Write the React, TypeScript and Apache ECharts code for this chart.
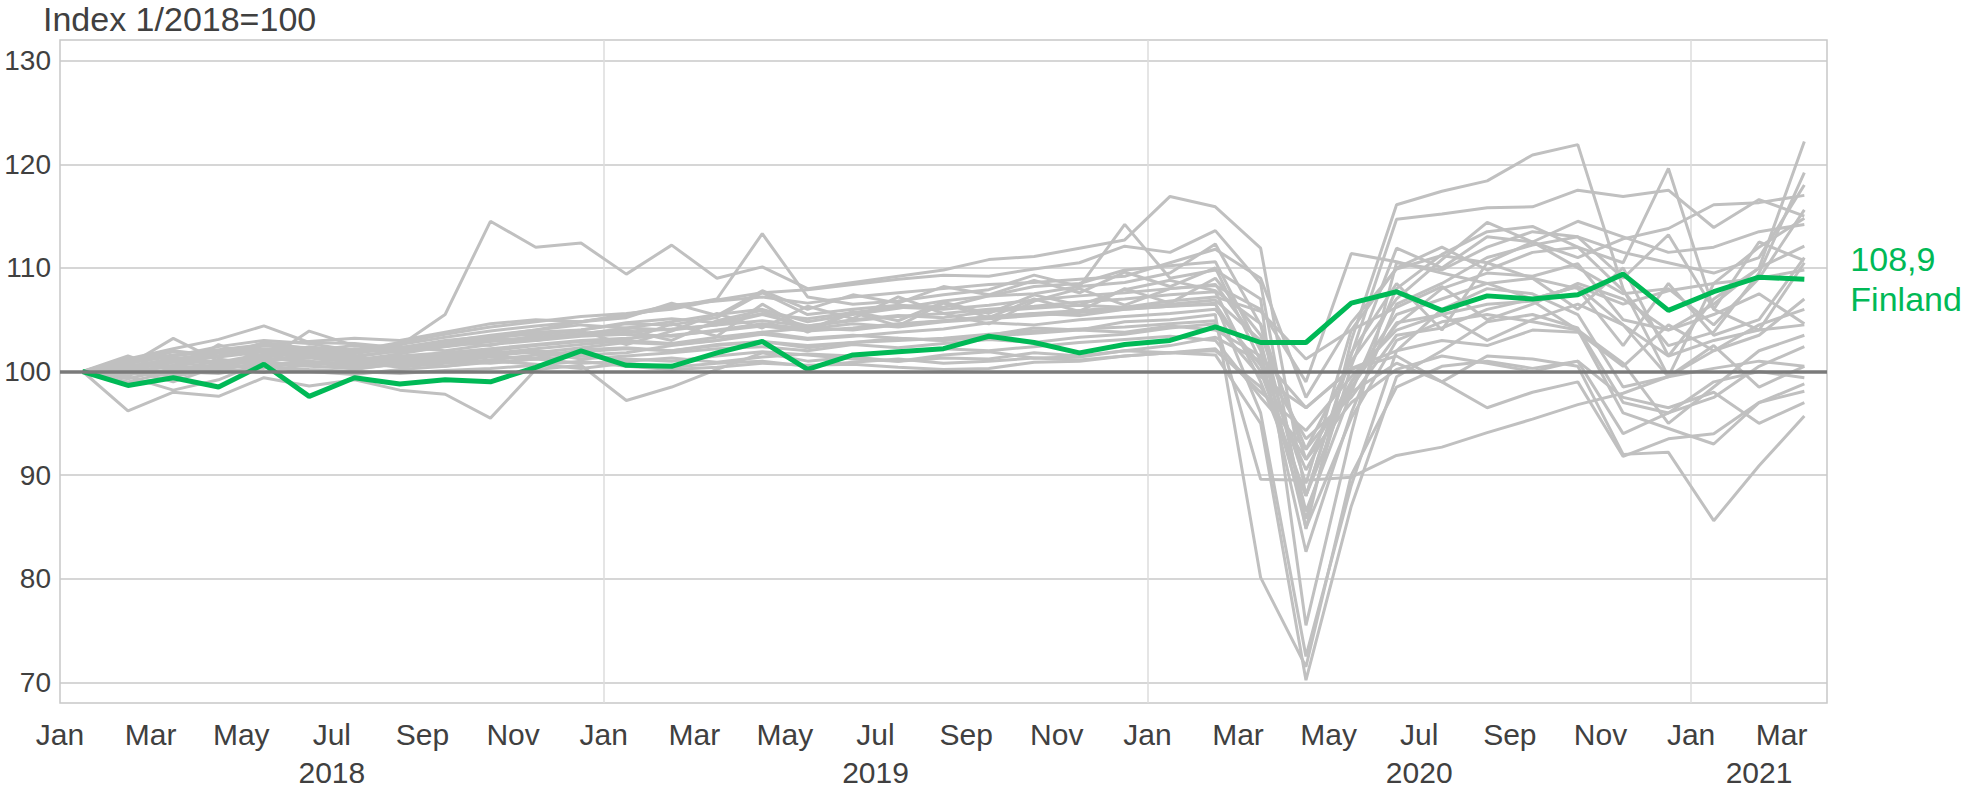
import React, { useEffect, useRef } from "react";
import * as echarts from "echarts";

// Months Jan 2018 .. Mar 2021 (39 monthly observations)
const startYear = 2018;
const monthNames = ["Jan", "Feb", "Mar", "Apr", "May", "Jun", "Jul", "Aug", "Sep", "Oct", "Nov", "Dec"];
const yearLabelPositions = [6, 18, 30, 37.5];
const yearLabels = ["2018", "2019", "2020", "2021"];
const yTickLabels = [70, 80, 90, 100, 110, 120, 130];

const finland = [100, 98.65, 99.4, 98.5, 100.7, 97.6, 99.4, 98.8, 99.2, 99.0, 100.4, 102.0, 100.6, 100.5, 101.8, 102.9, 100.2, 101.6, 101.9, 102.2, 103.4, 102.8, 101.8, 102.6, 103.0, 104.3, 102.8, 102.8, 106.6, 107.7, 105.9, 107.3, 107.0, 107.4, 109.4, 105.9, 107.7, 109.1, 108.9];

const g01 = [100, 101.0, 102.0, 101.5, 102.5, 102.3, 101.8, 102.5, 105.5, 114.5, 112.0, 112.4, 109.4, 112.2, 109.0, 110.1, 108.0, 108.6, 109.2, 109.8, 110.8, 111.1, 111.9, 112.7, 116.9, 115.9, 111.9, 88.0, 101.6, 114.7, 115.2, 115.8, 115.9, 117.5, 116.9, 117.5, 113.9, 116.6, 115.0];
const g02 = [100, 100.8, 101.5, 102.4, 103.0, 102.7, 102.0, 102.8, 103.6, 104.3, 104.8, 105.3, 105.6, 106.0, 106.9, 107.6, 107.9, 108.4, 108.9, 109.3, 109.2, 109.9, 110.5, 112.1, 111.5, 113.6, 108.5, 84.8, 103.0, 116.1, 117.4, 118.4, 120.9, 121.9, 108.0, 99.5, 108.5, 112.0, 114.8];
const g03 = [100, 100.3, 101.0, 101.8, 102.5, 102.0, 101.5, 102.0, 102.9, 103.5, 104.0, 104.8, 105.4, 106.2, 107.0, 113.3, 107.2, 106.5, 106.8, 107.4, 107.9, 109.3, 108.2, 114.2, 109.0, 109.8, 107.0, 75.5, 94.0, 110.5, 109.8, 112.0, 113.5, 113.0, 111.5, 110.5, 109.5, 111.0, 118.0];
const g04 = [100, 96.2, 98.0, 97.6, 99.4, 98.6, 99.2, 98.2, 97.8, 95.5, 100.2, 100.6, 97.2, 98.5, 100.2, 101.8, 101.0, 101.4, 101.0, 101.6, 101.9, 101.3, 101.4, 102.0, 102.5, 103.3, 101.0, 93.5, 97.5, 103.5, 104.2, 106.0, 107.0, 108.2, 104.5, 101.5, 103.0, 104.0, 104.5];
const g05 = [100, 100.6, 103.2, 101.0, 100.9, 101.6, 101.2, 101.0, 101.6, 102.0, 102.5, 102.9, 103.0, 104.6, 103.4, 106.5, 104.0, 105.8, 104.9, 106.7, 105.6, 107.4, 106.4, 107.9, 108.8, 107.8, 104.6, 91.5, 99.0, 104.5, 108.0, 109.5, 109.2, 110.4, 105.0, 104.0, 106.5, 110.0, 112.1];
const g06 = [100, 101.2, 102.2, 103.1, 104.4, 102.8, 102.7, 102.3, 103.0, 103.4, 104.0, 104.5, 104.2, 104.8, 105.5, 106.0, 104.8, 105.5, 106.1, 106.8, 107.3, 107.5, 108.2, 108.6, 109.5, 112.3, 104.5, 86.5, 98.0, 108.0, 111.3, 113.5, 114.0, 112.0, 107.8, 102.5, 103.8, 109.5, 119.2];
const g07 = [100, 99.5, 98.2, 99.2, 101.0, 103.9, 102.5, 101.8, 102.4, 103.2, 103.8, 104.0, 104.6, 104.5, 105.2, 107.6, 105.5, 106.0, 106.4, 106.2, 107.3, 108.2, 108.5, 109.8, 110.2, 110.6, 102.0, 82.6, 96.0, 106.5, 108.5, 111.0, 112.2, 113.0, 109.0, 113.2, 106.0, 112.5, 110.7];
const g08 = [100, 99.0, 100.0, 99.8, 100.5, 100.2, 100.0, 99.8, 100.1, 100.3, 100.6, 101.0, 100.5, 100.2, 100.4, 100.8, 100.6, 100.7, 100.4, 100.2, 100.3, 100.9, 101.0, 101.5, 101.8, 101.6, 95.0, 70.2, 87.0, 99.5, 102.0, 104.8, 105.5, 104.2, 97.0, 96.0, 97.5, 100.5, 102.4];
const g09 = [100, 100.2, 99.0, 100.5, 101.6, 101.0, 100.6, 101.2, 101.5, 101.8, 102.0, 101.6, 101.8, 102.5, 103.0, 103.8, 103.2, 103.5, 103.2, 103.0, 103.5, 104.2, 104.0, 104.8, 105.0, 105.5, 80.1, 71.5, 90.0, 98.5, 100.5, 101.0, 100.3, 101.0, 94.0, 96.0, 99.0, 100.0, 99.4];
const g10 = [100, 101.5, 100.0, 102.6, 101.0, 101.5, 101.2, 100.6, 100.9, 101.4, 101.3, 102.1, 102.3, 102.0, 102.5, 102.9, 102.3, 102.8, 103.0, 103.2, 103.6, 103.9, 104.1, 104.3, 104.6, 104.9, 89.6, 89.5, 89.8, 91.9, 92.7, 94.1, 95.4, 96.8, 97.9, 99.5, 100.3, 101.0, 100.5];
const g11 = [100, 100.9, 101.9, 101.5, 102.8, 102.2, 101.9, 102.6, 103.3, 103.9, 104.4, 104.8, 105.2, 106.6, 105.4, 107.8, 106.0, 107.4, 106.6, 108.2, 107.4, 108.8, 107.6, 109.6, 108.2, 110.0, 101.0, 85.8, 100.5, 111.9, 110.0, 113.0, 112.5, 111.0, 112.8, 113.8, 116.1, 116.3, 117.0];
const g12 = [100, 100.4, 101.3, 100.9, 101.7, 101.4, 101.1, 101.7, 102.4, 102.9, 103.2, 103.5, 103.8, 104.1, 104.5, 105.5, 104.4, 104.9, 105.3, 105.6, 106.0, 106.3, 106.7, 107.0, 107.4, 107.7, 99.0, 88.0, 101.8, 108.5, 104.0, 110.5, 109.0, 106.0, 110.0, 101.5, 107.0, 110.0, 122.2];
const g13 = [100, 100.7, 100.5, 101.8, 102.0, 101.8, 101.4, 102.0, 102.7, 103.3, 103.6, 103.9, 102.6, 103.9, 105.6, 104.2, 106.3, 105.1, 107.2, 105.6, 104.6, 106.8, 108.0, 106.4, 108.0, 108.4, 102.5, 89.2, 104.0, 110.0, 112.0, 109.8, 111.5, 112.0, 110.5, 119.6, 106.0, 104.0, 110.5];
const g14 = [100, 99.8, 99.6, 100.8, 101.3, 100.9, 100.8, 101.3, 101.7, 101.9, 101.8, 102.3, 102.8, 102.6, 103.0, 103.6, 103.1, 103.4, 103.8, 104.1, 104.7, 104.5, 105.0, 105.3, 105.6, 106.0, 100.6, 90.5, 98.5, 104.7, 105.5, 106.5, 106.8, 104.0, 96.0, 94.5, 93.0, 97.0, 98.1];
const g15 = [100, 100.1, 100.4, 100.2, 100.8, 100.5, 100.3, 100.7, 101.0, 100.8, 101.2, 101.5, 101.2, 101.0, 101.5, 101.9, 101.6, 101.2, 101.0, 101.3, 101.2, 101.8, 101.5, 102.0, 101.8, 102.2, 98.0, 94.3, 99.5, 104.0, 105.5, 103.0, 105.0, 106.5, 104.5, 99.5, 102.0, 103.5, 107.0];
const g16 = [100, 99.3, 100.3, 99.9, 100.4, 100.0, 99.7, 100.2, 100.5, 100.9, 101.2, 100.8, 101.0, 101.3, 100.9, 101.4, 101.7, 101.5, 101.9, 102.2, 102.0, 102.4, 102.8, 103.1, 103.4, 103.0, 97.5, 92.5, 98.0, 100.8, 99.0, 101.5, 101.2, 100.5, 92.0, 92.2, 85.6, 90.9, 95.7];
const g17 = [100, 100.5, 99.8, 101.2, 100.6, 101.0, 100.4, 100.9, 101.1, 101.5, 101.9, 101.2, 101.5, 101.8, 102.2, 102.4, 102.0, 102.6, 102.3, 102.7, 103.1, 102.8, 103.3, 103.6, 104.2, 104.6, 99.5, 96.5, 100.2, 101.5, 99.0, 96.5, 98.0, 99.0, 91.8, 93.5, 94.0, 97.0, 98.8];
const g18 = [100, 101.0, 101.6, 102.1, 102.6, 102.9, 103.2, 103.0, 103.8, 104.6, 105.0, 104.8, 105.5, 106.4, 106.8, 107.2, 106.6, 107.2, 107.6, 108.0, 108.4, 108.6, 108.9, 109.2, 110.5, 111.8, 109.0, 97.5, 104.7, 109.9, 111.2, 110.5, 112.5, 114.5, 113.0, 111.5, 112.0, 113.5, 114.2];
const g19 = [100, 99.6, 100.9, 100.4, 101.2, 101.3, 100.9, 101.5, 101.8, 102.2, 102.6, 103.0, 103.2, 103.5, 103.9, 104.4, 103.9, 104.2, 104.6, 104.9, 105.3, 105.6, 105.9, 106.2, 106.5, 106.9, 103.0, 84.9, 95.5, 103.0, 104.8, 105.5, 104.8, 104.0, 100.8, 95.0, 98.5, 102.0, 103.5];
const g20 = [100, 100.2, 100.9, 101.4, 101.9, 101.6, 102.2, 101.8, 102.6, 103.0, 103.3, 103.7, 104.0, 103.0, 104.9, 105.9, 103.8, 105.7, 104.4, 106.6, 105.2, 107.0, 105.8, 108.0, 106.6, 109.0, 103.5, 92.5, 101.0, 107.0, 110.8, 114.4, 112.5, 110.0, 107.5, 108.0, 104.5, 109.0, 115.6];
const g21 = [100, 100.0, 101.1, 100.7, 101.5, 102.0, 101.7, 102.4, 102.0, 102.6, 103.0, 103.4, 103.6, 103.4, 104.0, 104.6, 104.1, 104.6, 104.3, 104.8, 105.1, 105.4, 105.7, 106.0, 106.3, 106.5, 100.0, 88.0, 99.0, 105.5, 107.0, 108.5, 109.0, 108.0, 102.5, 108.5, 103.5, 105.0, 111.0];
const g22 = [100, 100.9, 101.5, 102.0, 101.5, 102.4, 101.9, 102.1, 102.8, 102.5, 103.5, 104.0, 104.7, 105.1, 104.7, 105.6, 105.1, 105.7, 106.2, 106.0, 106.4, 106.9, 107.3, 107.6, 108.0, 108.3, 106.0, 99.0, 111.4, 110.6, 109.5, 108.5, 107.0, 108.2, 106.5, 107.8, 108.5, 109.0, 109.8];
const g23 = [100, 99.9, 100.6, 100.2, 100.9, 100.6, 100.9, 100.4, 100.8, 101.1, 101.6, 101.9, 102.2, 102.0, 102.6, 102.9, 102.5, 102.8, 103.2, 103.0, 103.4, 103.7, 104.0, 103.8, 104.4, 104.0, 101.5, 96.5, 100.3, 102.0, 103.0, 102.5, 104.0, 103.8, 100.5, 104.5, 102.0, 104.5, 106.0];
const g24 = [100, 101.3, 100.2, 100.6, 100.3, 101.0, 100.2, 100.8, 100.5, 101.0, 100.7, 100.3, 100.8, 100.4, 100.8, 101.0, 100.5, 100.9, 101.2, 100.8, 101.0, 101.3, 101.1, 101.5, 101.8, 102.0, 98.5, 91.5, 97.0, 100.2, 101.5, 100.8, 100.0, 101.0, 97.5, 96.5, 98.0, 95.0, 97.0];
const g25 = [100, 98.8, 99.5, 100.3, 99.9, 100.8, 101.4, 100.9, 101.3, 101.7, 102.2, 102.6, 103.0, 102.7, 103.3, 103.8, 104.2, 104.0, 104.5, 104.9, 105.2, 105.6, 105.4, 106.0, 106.3, 106.6, 96.0, 72.5, 89.0, 102.0, 106.0, 108.0, 107.5, 105.5, 98.5, 99.5, 102.5, 98.5, 100.5];
const g26 = [100, 100.5, 101.2, 101.8, 102.2, 102.0, 102.5, 102.3, 102.9, 103.2, 103.0, 103.6, 104.2, 104.0, 104.5, 104.9, 104.4, 105.0, 105.4, 105.2, 105.8, 106.1, 106.4, 106.2, 106.8, 107.2, 105.8, 101.2, 104.0, 106.2, 108.2, 105.0, 106.5, 108.5, 107.0, 104.0, 105.5, 107.5, 104.6];

const otherCountries = [g01, g02, g03, g04, g05, g06, g07, g08, g09, g10, g11, g12, g13, g14, g15, g16, g17, g18, g19, g20, g21, g22, g23, g24, g25, g26];

const FONT = "'Liberation Sans', Arial, sans-serif";
const TEXT = "#404040";
const GREEN = "#00b956";
const GREY = "#c0c0c0";

// observation of month i sits in the middle of month i on a month-unit axis
const toPoints = (vals: number[]) => vals.map((v, i) => [i + 0.5, v]);

export default function App() {
  const ref = useRef<HTMLDivElement>(null);

  useEffect(() => {
    if (!ref.current) return;
    const chart = echarts.init(ref.current, undefined, { renderer: "svg" });

    const greySeries = otherCountries.map((vals, k) => ({
      type: "line",
      name: "c" + k,
      xAxisIndex: 0,
      yAxisIndex: 0,
      data: toPoints(vals),
      showSymbol: false,
      symbol: "none",
      silent: true,
      z: 2,
      lineStyle: { color: GREY, width: 3 },
    }));

    chart.setOption({
      animation: false,
      backgroundColor: "#ffffff",
      textStyle: { fontFamily: FONT },
      title: {
        text: "Index 1/2018=100",
        left: 43,
        top: 2,
        padding: 0,
        textStyle: { fontFamily: FONT, fontSize: 34, fontWeight: "normal", color: TEXT },
      },
      grid: {
        left: 60,
        right: 135,
        top: 40,
        bottom: 89,
        show: true,
        borderColor: "#c8c8c8",
        borderWidth: 1.5,
      },
      xAxis: [
        {
          type: "value",
          min: 0,
          max: 39,
          interval: 2,
          axisLine: { show: false },
          axisTick: { show: false },
          splitLine: { show: false },
          axisLabel: {
            margin: 16,
            fontSize: 30,
            color: TEXT,
            fontFamily: FONT,
            formatter: (v: number) => (v % 2 === 0 && v <= 38 ? monthNames[v % 12] : ""),
          },
        },
        {
          type: "value",
          min: 0,
          max: 39,
          interval: 12,
          position: "top",
          axisLine: { show: false },
          axisTick: { show: false },
          axisLabel: { show: false },
          splitLine: { show: true, showMaxLine: false, showMinLine: false, lineStyle: { color: "#dcdcdc", width: 1.5 } },
        },
        {
          type: "value",
          min: 0,
          max: 39,
          position: "bottom",
          axisLine: { show: false },
          axisTick: { show: false },
          splitLine: { show: false },
          axisLabel: {
            customValues: yearLabelPositions,
            margin: 54,
            fontSize: 30,
            color: TEXT,
            fontFamily: FONT,
            formatter: (v: number) => {
              const idx = yearLabelPositions.indexOf(v);
              return idx >= 0 ? yearLabels[idx] : String(startYear + Math.floor(v / 12));
            },
          },
        },
      ],
      yAxis: {
        type: "value",
        min: 68,
        max: 132,
        axisLine: { show: false },
        axisTick: { show: false },
        axisLabel: {
          customValues: yTickLabels,
          margin: 9,
          fontSize: 28,
          color: TEXT,
          fontFamily: FONT,
          formatter: (v: number) => (yTickLabels.indexOf(v) >= 0 ? String(v) : ""),
        },
        splitLine: { show: true, showMinLine: false, showMaxLine: false, lineStyle: { color: "#c8c8c8", width: 1.5 } },
      },
      series: [
        ...greySeries,
        {
          type: "line",
          name: "baseline",
          data: [],
          z: 3,
          silent: true,
          markLine: {
            silent: true,
            symbol: ["none", "none"],
            label: { show: false },
            lineStyle: { color: "#7a7a7a", width: 3.5, type: "solid" },
            data: [{ yAxis: 100 }],
          },
        },
        {
          type: "line",
          name: "Finland",
          data: toPoints(finland),
          showSymbol: false,
          symbol: "none",
          z: 4,
          lineStyle: { color: GREEN, width: 5 },
          endLabel: {
            show: true,
            distance: 46,
            color: GREEN,
            fontFamily: FONT,
            fontSize: 34,
            lineHeight: 40,
            formatter: (p: any) => String(p.value[1]).replace(".", ",") + "\n" + p.seriesName,
          },
        },
      ],
    });
    return () => chart.dispose();
  }, []);

  return (
    <div
      ref={ref}
      style={{ position: "fixed", left: 0, top: 0, width: 1962, height: 792, background: "#fff" }}
    />
  );
}
